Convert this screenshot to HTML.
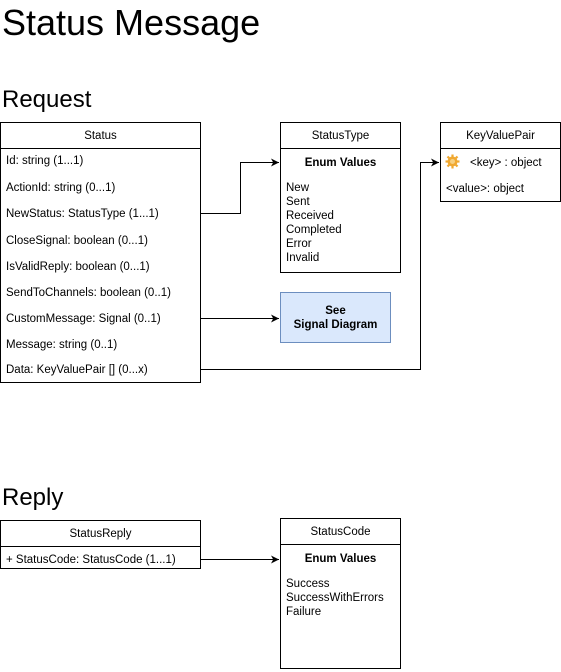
<!DOCTYPE html>
<html><head><meta charset="utf-8"><style>
html,body{margin:0;padding:0;background:#fff;}
svg{display:block;font-family:"Liberation Sans",Arial,sans-serif;}
</style></head><body>
<svg width="561" height="672" viewBox="0 0 561 672" xmlns="http://www.w3.org/2000/svg">
<defs><marker id="a" markerWidth="9" markerHeight="9" refX="8" refY="4.5" orient="auto" markerUnits="userSpaceOnUse"><path d="M0,0.5 L8,4.5 L0,8.5 L2.2,4.5 Z" fill="#000"/></marker></defs>
<text x="2" y="35" font-size="36">Status Message</text>
<text x="2" y="107" font-size="24">Request</text>
<text x="2" y="505" font-size="24">Reply</text>

<g fill="#fff" stroke="#000" stroke-width="1">
<rect x="0.5" y="122.5" width="200" height="260"/>
<line x1="0.5" y1="148.5" x2="200.5" y2="148.5"/>
<rect x="280.5" y="122.5" width="120" height="150"/>
<line x1="280.5" y1="148.5" x2="400.5" y2="148.5"/>
<rect x="440.5" y="122.5" width="120" height="79"/>
<line x1="440.5" y1="148.5" x2="560.5" y2="148.5"/>
<rect x="280.5" y="292.5" width="110" height="50" fill="#dae8fc" stroke="#6c8ebf"/>
<rect x="0.5" y="520.5" width="200" height="48"/>
<line x1="0.5" y1="546.5" x2="200.5" y2="546.5"/>
<rect x="280.5" y="518.5" width="120" height="150"/>
<line x1="280.5" y1="544.5" x2="400.5" y2="544.5"/>
</g>

<g fill="none" stroke="#000" stroke-width="1">
<path d="M200.5,213.5 H240.5 V162.5 H279" marker-end="url(#a)"/>
<path d="M200.5,318.5 H279" marker-end="url(#a)"/>
<path d="M200.5,369.5 H420.5 V162.5 H439" marker-end="url(#a)"/>
<path d="M200.5,559.5 H279" marker-end="url(#a)"/>
</g>

<g font-size="11.5" fill="#000">
<text x="100.5" y="139" text-anchor="middle">Status</text>
<text x="6" y="164">Id: string (1...1)</text>
<text x="6" y="191">ActionId: string (0...1)</text>
<text x="6" y="217">NewStatus: StatusType (1...1)</text>
<text x="6" y="244">CloseSignal: boolean (0...1)</text>
<text x="6" y="270">IsValidReply: boolean (0...1)</text>
<text x="6" y="296">SendToChannels: boolean (0..1)</text>
<text x="6" y="322">CustomMessage: Signal (0..1)</text>
<text x="6" y="348">Message: string (0..1)</text>
<text x="6" y="373">Data: KeyValuePair [] (0...x)</text>

<text x="340.5" y="139" text-anchor="middle">StatusType</text>
<text x="340.5" y="166" text-anchor="middle" font-weight="bold">Enum Values</text>
<text x="286" y="191">New</text>
<text x="286" y="205">Sent</text>
<text x="286" y="219">Received</text>
<text x="286" y="233">Completed</text>
<text x="286" y="247">Error</text>
<text x="286" y="261">Invalid</text>

<text x="500.5" y="139" text-anchor="middle">KeyValuePair</text>
<text x="470" y="166">&lt;key&gt; : object</text>
<text x="446" y="192">&lt;value&gt;: object</text>

<text x="335.5" y="314" text-anchor="middle" font-weight="bold">See</text>
<text x="335.5" y="328" text-anchor="middle" font-weight="bold">Signal Diagram</text>

<text x="100.5" y="537" text-anchor="middle">StatusReply</text>
<text x="6" y="563">+ StatusCode: StatusCode (1...1)</text>

<text x="340.5" y="535" text-anchor="middle">StatusCode</text>
<text x="340.5" y="562" text-anchor="middle" font-weight="bold">Enum Values</text>
<text x="286" y="587">Success</text>
<text x="286" y="601">SuccessWithErrors</text>
<text x="286" y="615">Failure</text>
</g>

<g transform="translate(452.5,161.5)">
<circle r="5" fill="#f0a830"/>
<g stroke="#f0a830" stroke-width="2.2">
<line x1="-7" y1="0" x2="7" y2="0"/><line x1="0" y1="-7" x2="0" y2="7"/>
<line x1="-5" y1="-5" x2="5" y2="5"/><line x1="-5" y1="5" x2="5" y2="-5"/>
</g>
<circle r="2.5" fill="#f8d080"/>
</g>
</svg>
</body></html>
